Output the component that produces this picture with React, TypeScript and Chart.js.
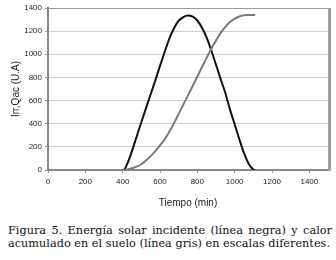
import React, { useEffect, useRef } from "react";
import { Chart, registerables } from "chart.js";

Chart.register(...registerables);

const timeMin = [400, 405, 425, 450, 475, 500, 525, 550, 575, 600, 625, 650, 675, 700, 725, 750, 775, 800, 825, 850, 875, 900, 925, 950, 975, 1000, 1025, 1050, 1075, 1100, 1108];
const irradiance = [0, 0, 55, 165, 290, 413, 535, 655, 775, 900, 1020, 1135, 1225, 1290, 1322, 1335, 1325, 1292, 1230, 1145, 1033, 910, 785, 665, 522, 395, 266, 145, 55, 5, 0];
const heatTime = [400, 410, 425, 450, 475, 500, 525, 550, 575, 600, 625, 650, 675, 700, 725, 750, 775, 800, 825, 850, 875, 900, 925, 950, 975, 1000, 1025, 1050, 1075, 1100, 1110];
const heatAccum = [0, 0, 5, 15, 29, 50, 82, 120, 163, 212, 265, 330, 405, 485, 565, 645, 725, 808, 890, 970, 1050, 1120, 1185, 1237, 1278, 1308, 1327, 1337, 1340, 1340, 1340];
const xTicks = [0, 200, 400, 600, 800, 1000, 1200, 1400];
const yTicks = [0, 200, 400, 600, 800, 1000, 1200, 1400];

const xTitle = "Tiempo (min)";
const yTitle = "Irr,Qac (U.A)";
const captionLine1 = "Figura 5. Energía solar incidente (línea negra) y calor";
const captionLine2 = "acumulado en el suelo (línea gris) en escalas diferentes.";

const framePlugin = {
  id: "frame",
  afterDraw(chart: any) {
    const { ctx, chartArea } = chart;
    ctx.save();
    ctx.strokeStyle = "#9a9a9a";
    ctx.lineWidth = 1;
    ctx.beginPath();
    ctx.moveTo(chartArea.left, chartArea.top + 0.5);
    ctx.lineTo(chartArea.right, chartArea.top + 0.5);
    ctx.stroke();
    ctx.lineWidth = 3;
    ctx.strokeStyle = "#a0a0a0";
    ctx.beginPath();
    ctx.moveTo(chartArea.right + 1.5, chartArea.top);
    ctx.lineTo(chartArea.right + 1.5, chartArea.bottom + 1);
    ctx.stroke();
    ctx.restore();
  },
};

const tickFont = { family: "'Liberation Sans', Arial, sans-serif", size: 8 };
const titleFont = { family: "'Liberation Sans', Arial, sans-serif", size: 10 };

export default function App() {
  const ref = useRef<HTMLCanvasElement | null>(null);

  useEffect(() => {
    document.body.style.margin = "0";
    const canvas = ref.current;
    if (!canvas) return;
    const chart = new Chart(canvas, {
      type: "line",
      data: {
        datasets: [
          {
            label: "Qac",
            data: heatTime.map((t, i) => ({ x: t, y: heatAccum[i] })),
            borderColor: "#7a7a7a",
            borderWidth: 2,
            pointRadius: 0,
            cubicInterpolationMode: "monotone",
            fill: false,
          },
          {
            label: "Irr",
            data: timeMin.map((t, i) => ({ x: t, y: irradiance[i] })),
            borderColor: "#111111",
            borderWidth: 2,
            pointRadius: 0,
            cubicInterpolationMode: "monotone",
            fill: false,
          },
        ],
      },
      options: {
        animation: false,
        responsive: false,
        layout: { padding: { top: 8, right: 8, left: 0, bottom: 0 } },
        plugins: { legend: { display: false }, tooltip: { enabled: false } },
        scales: {
          x: {
            type: "linear",
            min: 0,
            max: 1500,
            afterBuildTicks: (scale: any) => {
              scale.ticks = xTicks.map((v) => ({ value: v }));
            },
            afterFit: (scale: any) => {
              scale.height = 45;
            },
            grid: { drawOnChartArea: false, drawTicks: true, tickLength: 3, color: "#999" },
            border: { display: true, color: "#888", width: 2 },
            ticks: {
              maxRotation: 0,
              autoSkip: false,
              padding: 4,
              color: "#222",
              font: tickFont,
              callback: (v: any) => String(v),
            },
            title: {
              display: true,
              text: xTitle,
              color: "#222",
              padding: { top: 0, bottom: 6 },
              font: titleFont,
            },
          },
          y: {
            type: "linear",
            min: 0,
            max: 1400,
            afterBuildTicks: (scale: any) => {
              scale.ticks = yTicks.map((v) => ({ value: v }));
            },
            afterFit: (scale: any) => {
              scale.width = 48;
            },
            grid: {
              color: (c: any) => (c.tick && c.tick.value === 0 ? "rgba(0,0,0,0)" : "#cfcfcf"),
              tickColor: "#999",
              tickLength: 3,
              lineWidth: 1,
            },
            border: { display: true, color: "#888", width: 2 },
            ticks: {
              padding: 3,
              color: "#222",
              font: tickFont,
              callback: (v: any) => String(v),
            },
            title: {
              display: true,
              text: yTitle,
              color: "#222",
              padding: { top: 10, bottom: 0 },
              font: titleFont,
            },
          },
        },
      },
      plugins: [framePlugin],
    } as any);
    return () => chart.destroy();
  }, []);

  return (
    <div style={{ position: "fixed", left: 0, top: 0, width: 336, height: 260, background: "#fff", overflow: "hidden" }}>
      <canvas ref={ref} width={336} height={215} style={{ display: "block", width: 336, height: 215 }} />
      <div
        style={{
          position: "absolute",
          left: 8,
          top: 224,
          width: 324,
          fontFamily: "'DejaVu Serif', serif",
          fontSize: 11.3,
          lineHeight: "13px",
          color: "#111",
        }}
      >
        <div style={{ textAlign: "justify", textAlignLast: "justify" }}>{captionLine1}</div>
        <div style={{ whiteSpace: "nowrap" }}>{captionLine2}</div>
      </div>
    </div>
  );
}
